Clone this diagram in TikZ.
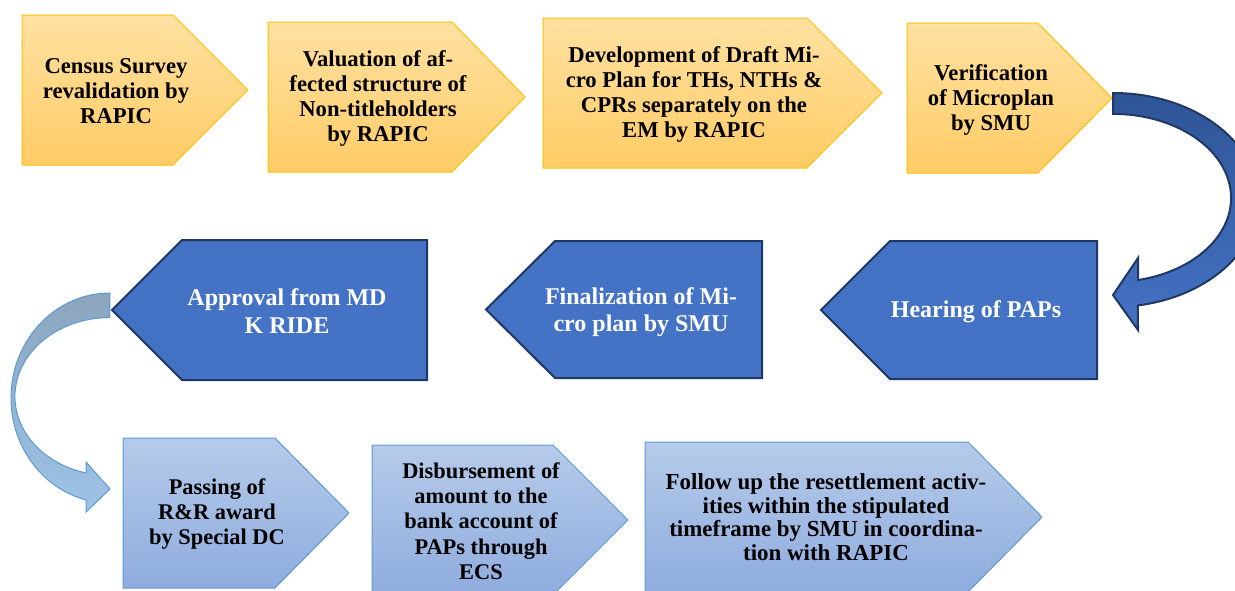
\documentclass[tikz,border=0pt]{standalone}
\usepackage{fontspec}
\setmainfont{Liberation Serif}
\definecolor{yTop}{RGB}{255,225,162}
\definecolor{yBot}{RGB}{255,204,102}
\definecolor{yLine}{RGB}{255,192,0}
\definecolor{bFill}{RGB}{68,114,196}
\definecolor{bLine}{RGB}{32,56,100}
\definecolor{lTop}{RGB}{182,203,234}
\definecolor{lBot}{RGB}{143,172,222}
\definecolor{lLine}{RGB}{91,155,213}
\definecolor{aTop}{RGB}{47,85,151}
\definecolor{aBot}{RGB}{68,114,196}
\definecolor{cTop}{RGB}{140,165,190}
\definecolor{cBot}{RGB}{157,195,230}
\tikzset{
  ybox/.style={top color=yTop, bottom color=yBot, draw=yLine, line width=0.75pt, line join=miter},
  bbox/.style={fill=bFill, draw=bLine, line width=1.5pt, line join=miter},
  lbox/.style={top color=lTop, bottom color=lBot, draw=lLine, line width=0.75pt, line join=miter},
  ytext/.style={font=\fontsize{17}{18.75}\selectfont\bfseries, align=center, inner sep=0pt, text=black},
  btext/.style={font=\fontsize{18}{20.5}\selectfont\bfseries, align=center, inner sep=0pt, text=white},
  ltext/.style={font=\fontsize{16.8}{19}\selectfont\bfseries, align=center, inner sep=0pt, text=black},
  arrowA/.style={top color=aTop, bottom color=aBot, draw=bLine, line width=1.5pt, line join=miter},
  arrowB/.style={top color=cTop, bottom color=cBot, draw=lLine, line width=0.75pt, line join=miter}
}
% right-pointing pentagon: style, left, top, bottom, shoulder, tip
\newcommand\rpent[6]{\path[#1] (#2,#3) -- (#5,#3) -- (#6,{(#3+#4)/2}) -- (#5,#4) -- (#2,#4) -- cycle;}
% left-pointing pentagon: style, right, top, bottom, shoulder, tip
\newcommand\lpent[6]{\path[#1] (#2,#3) -- (#5,#3) -- (#6,{(#3+#4)/2}) -- (#5,#4) -- (#2,#4) -- cycle;}
\begin{document}
\begin{tikzpicture}[x=0.75pt,y=-0.75pt]
\useasboundingbox (0,0) rectangle (1235,590);
\clip (0,0) rectangle (1235,590);
\fill[white] (0,0) rectangle (1235,590);

% row 1
\rpent{ybox}{22}{15}{165}{173}{248}
\rpent{ybox}{268}{22}{172}{452}{525}
\rpent{ybox}{543}{18}{168}{807}{882}
\rpent{ybox}{907}{23}{173}{1038}{1112}
\node[ytext] (s1) at (116,91) {Census Survey\\revalidation by\\RAPIC};
\node[ytext] (s2) at (378,98) {Valuation of af-\\fected structure of\\Non-titleholders\\by RAPIC};
\node[ytext] (s3) at (694,94) {Development of Draft Mi-\\cro Plan for THs, NTHs \&\\CPRs separately on the\\EM by RAPIC};
\node[ytext] (s4) at (991,100) {Verification\\of Microplan\\by SMU};

% row 2
\lpent{bbox}{1097}{241}{379}{890}{821}
\lpent{bbox}{762}{241}{378}{555}{486}
\lpent{bbox}{427}{240}{380}{182}{112}
\node[btext] (s5) at (976,312) {Hearing of PAPs};
\node[btext] (s6) at (641,312) {Finalization of Mi-\\cro plan by SMU};
\node[btext] (s7) at (287,311) {Approval from MD\\K RIDE};

% row 3
\rpent{lbox}{123}{438}{588}{275}{349}
\rpent{lbox}{372}{445}{595}{553}{628}
\rpent{lbox}{645}{442}{592}{968}{1042}
\node[ltext] (s8) at (217,514) {Passing of\\R\&R award\\by Special DC};
\node[ltext] (s9) at (481,521) {Disbursement of\\amount to the\\bank account of\\PAPs through\\ECS};
\node[ltext, font=\fontsize{17.2}{17.6}\selectfont\bfseries] (s10) at (826,517) {Follow up the resettlement activ-\\ities within the stipulated\\timeframe by SMU in coordina-\\tion with RAPIC};

% curved block arrow: Verification -> Hearing
\coordinate (a1s) at (1113,93);
\coordinate (a1t) at (1113,295);
\path[arrowA] (a1s) arc[start angle=-90, end angle=80.1, x radius=145, y radius=107]
  -- (1138,330) -- (a1t) -- (1138,258) -- (1138,280)
  arc[start angle=77.8, end angle=-90, x radius=118, y radius=84] -- cycle;

% curved block arrow: Approval -> Passing
\coordinate (a2s) at (110,293);
\coordinate (a2t) at (110,489);
\path[arrowB] (a2s) arc[start angle=-90, end angle=-256, x radius=99, y radius=105]
  -- (86,512) -- (a2t) -- (86,462) -- (86,473)
  arc[start angle=-255.4, end angle=-90, x radius=95, y radius=79] -- cycle;
\end{tikzpicture}
\end{document}
